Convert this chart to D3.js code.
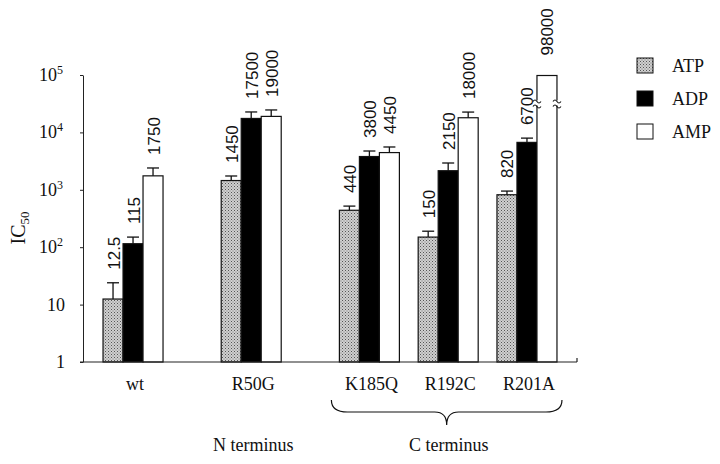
<!DOCTYPE html>
<html>
<head>
<title>IC50 by mutant</title>
<style>
  body { margin: 0; background: #fff; }
  svg { display: block; }
  .serif { font-family: "Liberation Serif", "Times New Roman", serif; fill: #111; }
  .val { font-family: "Liberation Sans", Arial, sans-serif; font-size: 17px; fill: #111; }
  .bar { stroke: #111; stroke-width: 1.2; }
</style>
</head>
<body>
<svg id="chart" width="720" height="464"></svg>
<script src="https://cdnjs.cloudflare.com/ajax/libs/d3/7.8.5/d3.min.js"></script>
<script>
  // categories and the slot each one sits in along the x axis (gaps between groups)
  const mutants = ["wt", "R50G", "K185Q", "R192C", "R201A"];
  const slots = [0, 3, 6, 8, 10];
  const series = ["ATP", "ADP", "AMP"];

  // IC50 values
  const atp = [12.5, 1450, 440, 150, 820];
  const adp = [115, 17500, 3800, 2150, 6700];
  const amp = [1750, 19000, 4450, 18000, 98000];
  // top of the error bar (null = none drawn)
  const atpErr = [24, 1740, 520, 190, 950];
  const adpErr = [150, 22700, 4740, 2930, 7950];
  const ampErr = [2400, 24600, 5570, 22600, null];

  const yTicks = [1, 10, 100, 1000, 10000, 100000];
  const tickLabels = [["1", ""], ["10", ""], ["10", "2"], ["10", "3"], ["10", "4"], ["10", "5"]];

  const svg = d3.select("#chart");

  // stippled grey fill for ATP
  const defs = svg.append("defs");
  const pat = defs.append("pattern").attr("id", "stipple")
    .attr("width", 3).attr("height", 3).attr("patternUnits", "userSpaceOnUse");
  pat.append("rect").attr("width", 3).attr("height", 3).attr("fill", "#d0d0d0");
  pat.append("rect").attr("x", 0).attr("y", 0).attr("width", 1).attr("height", 1).attr("fill", "#555");
  pat.append("rect").attr("x", 1.5).attr("y", 1.5).attr("width", 1).attr("height", 1).attr("fill", "#777");

  const fills = { ATP: "url(#stipple)", ADP: "#000", AMP: "#fff" };

  const y = d3.scaleLog().domain([1, 1e5]).range([362, 75]);
  const x = d3.scaleLinear().domain([-1.27, 11.27]).range([83, 577]);
  const sub = d3.scaleBand().domain(series).range([-30, 30]);

  // flatten into bar records
  const vals = { ATP: atp, ADP: adp, AMP: amp };
  const errs = { ATP: atpErr, ADP: adpErr, AMP: ampErr };
  const bars = [];
  mutants.forEach(function(m, i) {
    series.forEach(function(s) {
      bars.push({ mutant: m, slot: slots[i], series: s, value: vals[s][i], err: errs[s][i] });
    });
  });

  // y axis
  const yAxis = svg.append("g").attr("transform", "translate(83,0)")
    .call(d3.axisLeft(y).tickValues(yTicks).tickSize(3).tickSizeOuter(0).tickFormat(""));
  yAxis.select(".domain").attr("stroke", "#222");
  yAxis.selectAll(".tick line").attr("stroke", "#222");

  yTicks.forEach(function(t, i) {
    const lab = svg.append("text").attr("class", "serif")
      .attr("x", tickLabels[i][1] ? 63 : 65).attr("y", y(t) + 6)
      .attr("text-anchor", "end").style("font-size", "18px");
    lab.append("tspan").text(tickLabels[i][0]);
    if (tickLabels[i][1]) {
      lab.append("tspan").attr("dy", -7).style("font-size", "12px").text(tickLabels[i][1]);
    }
  });

  // y title: IC50
  const yt = svg.append("text").attr("class", "serif")
    .attr("transform", "translate(25,228) rotate(-90)")
    .attr("text-anchor", "middle").style("font-size", "20px");
  yt.append("tspan").text("IC");
  yt.append("tspan").attr("dy", 4).style("font-size", "13px").text("50");

  // bars
  svg.selectAll(".bar").data(bars).enter().append("rect")
    .attr("class", "bar")
    .attr("x", function(d) { return x(d.slot) + sub(d.series); })
    .attr("width", sub.bandwidth())
    .attr("y", function(d) { return y(d.value); })
    .attr("height", function(d) { return y(1) - y(d.value); })
    .attr("fill", function(d) { return fills[d.series]; });

  // error bars (upper only)
  const eb = svg.selectAll(".err").data(bars.filter(function(d) { return d.err; }))
    .enter().append("g").attr("stroke", "#111").attr("stroke-width", 1.3);
  eb.append("line")
    .attr("x1", function(d) { return x(d.slot) + sub(d.series) + sub.bandwidth() / 2; })
    .attr("x2", function(d) { return x(d.slot) + sub(d.series) + sub.bandwidth() / 2; })
    .attr("y1", function(d) { return y(d.value); })
    .attr("y2", function(d) { return y(d.err); });
  eb.append("line")
    .attr("x1", function(d) { return x(d.slot) + sub(d.series) + sub.bandwidth() / 2 - 6; })
    .attr("x2", function(d) { return x(d.slot) + sub(d.series) + sub.bandwidth() / 2 + 6; })
    .attr("y1", function(d) { return y(d.err); })
    .attr("y2", function(d) { return y(d.err); });

  // value labels, rotated
  svg.selectAll(".val").data(bars).enter().append("text")
    .attr("class", "val")
    .attr("transform", function(d) {
      const cx = x(d.slot) + sub(d.series) + sub.bandwidth() / 2 + 1;
      const top = d.err ? y(d.err) - 13 : y(d.value) - 20;
      return "translate(" + cx + "," + top + ") rotate(-90)";
    })
    .attr("dominant-baseline", "central")
    .text(function(d) { return d.value; });

  // axis break on the tallest bar (R201A AMP)
  const big = bars.filter(function(d) { return d.err === null; });
  big.forEach(function(d) {
    const bx0 = x(d.slot) + sub(d.series), bx1 = bx0 + sub.bandwidth();
    const by = y(d.value) + 27;
    svg.append("rect").attr("x", bx0 - 1).attr("y", by - 2).attr("width", sub.bandwidth() + 2)
      .attr("height", 5).attr("fill", "#fff");
    [bx0, bx1].forEach(function(ex) {
      [by - 2, by + 3].forEach(function(wy) {
        svg.append("path")
          .attr("d", "M" + (ex - 4) + "," + (wy + 1) + " q2,-3 4,0 t4,0")
          .attr("fill", "none").attr("stroke", "#111").attr("stroke-width", 1.1);
      });
    });
  });

  // x axis line
  svg.append("line").attr("x1", 80).attr("x2", 577).attr("y1", y(1)).attr("y2", y(1))
    .attr("stroke", "#222").attr("stroke-width", 1.2);
  svg.append("line").attr("x1", 577).attr("x2", 577).attr("y1", y(1)).attr("y2", y(1) - 4)
    .attr("stroke", "#222").attr("stroke-width", 1.2);

  // category labels
  svg.selectAll(".cat").data(mutants).enter().append("text")
    .attr("class", "serif")
    .attr("x", function(d, i) { return x(slots[i]) + 2; })
    .attr("y", 390)
    .attr("text-anchor", "middle").style("font-size", "18px")
    .text(function(d) { return d; });

  // brace under the C-terminal mutants
  const bL = x(slots[2]) - 38, bR = x(slots[4]) + 35, bM = (bL + bR) / 2;
  svg.append("path")
    .attr("d", "M" + bL + ",400 Q" + bL + ",412 " + (bL + 16) + ",412 L" + (bM - 12) + ",412 Q" + bM + ",412 " + bM + ",425" +
               " Q" + bM + ",412 " + (bM + 12) + ",412 L" + (bR - 16) + ",412 Q" + bR + ",412 " + bR + ",400")
    .attr("fill", "none").attr("stroke", "#111").attr("stroke-width", 1.2);

  svg.append("text").attr("class", "serif").attr("x", x(slots[1]) + 2).attr("y", 451)
    .attr("text-anchor", "middle").style("font-size", "18px").text("N terminus");
  svg.append("text").attr("class", "serif").attr("x", bM + 2).attr("y", 451)
    .attr("text-anchor", "middle").style("font-size", "18px").text("C terminus");

  // legend
  const leg = svg.selectAll(".leg").data(series).enter().append("g")
    .attr("transform", function(d, i) { return "translate(637," + (58 + i * 33) + ")"; });
  leg.append("rect").attr("width", 16).attr("height", 15)
    .attr("fill", function(d) { return fills[d]; }).attr("stroke", "#111").attr("stroke-width", 1);
  leg.append("text").attr("class", "serif").attr("x", 35).attr("y", 14)
    .style("font-size", "18px").text(function(d) { return d; });
</script>
</body>
</html>
